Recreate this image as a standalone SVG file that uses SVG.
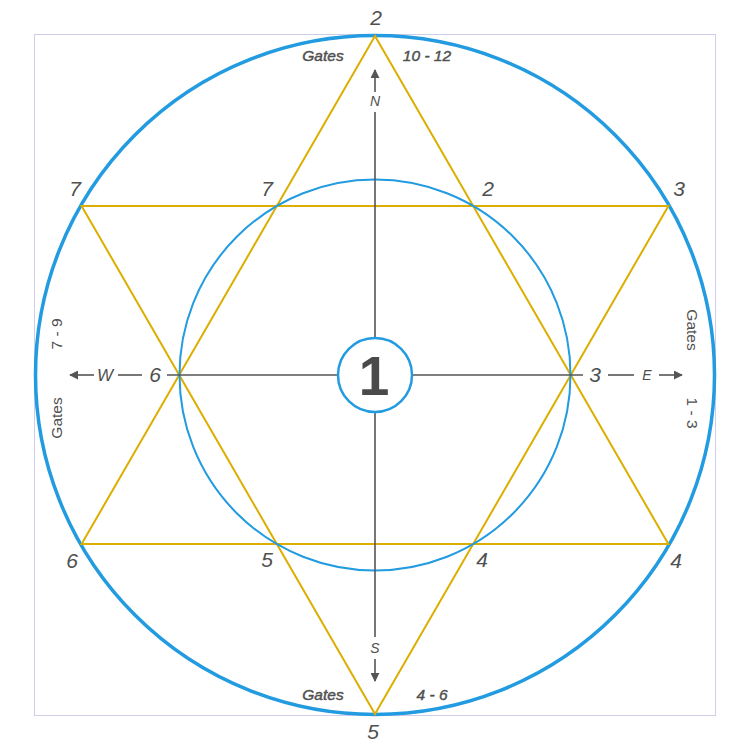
<svg xmlns="http://www.w3.org/2000/svg" width="750" height="750" viewBox="0 0 750 750">
<defs>
<style>
.lbl{font-family:"Liberation Sans",Arial,sans-serif;font-style:italic;fill:#505050;}
.num{font-size:21px;}
.small{font-size:15.5px;stroke:#505050;stroke-width:0.45;}
.side{font-family:"Liberation Sans",Arial,sans-serif;font-size:15.5px;fill:#505050;}
.dir{font-size:14px;}
.axis{stroke:#555;stroke-width:1.6;fill:none;}
.star{stroke:#dcae00;stroke-width:2;fill:none;}
.blue{stroke:#229be0;fill:none;}
</style>
<marker id="arr" viewBox="0 0 10 10" refX="9" refY="5" markerWidth="9" markerHeight="9" markerUnits="userSpaceOnUse" orient="auto">
<path d="M0,0 L10,5 L0,10 Z" fill="#555"/>
</marker>
</defs>
<rect x="0" y="0" width="750" height="750" fill="#fff"/>
<rect x="34.5" y="34.5" width="681" height="681" fill="none" stroke="#cfcde8" stroke-width="1"/>
<g id="outer-circle"><circle cx="375" cy="375" r="339.5" class="blue" stroke-width="3.5"/></g>
<g id="star">
<polygon class="star" points="375,36 81.6,544 668.4,544"/>
<polygon class="star" points="375,714 81.6,206 668.4,206"/>
</g>
<g id="inner-circle"><circle cx="375" cy="375" r="195.5" class="blue" stroke-width="2"/></g>
<g id="connectors">
<line class="axis" x1="375" y1="112" x2="375" y2="338"/>
<line class="axis" x1="375" y1="92" x2="375" y2="70" marker-end="url(#arr)"/>
<line class="axis" x1="375" y1="412" x2="375" y2="637"/>
<line class="axis" x1="375" y1="659" x2="375" y2="681" marker-end="url(#arr)"/>
<line class="axis" x1="167" y1="375" x2="338" y2="375"/>
<line class="axis" x1="118" y1="375" x2="142" y2="375"/>
<line class="axis" x1="94" y1="375" x2="70" y2="375" marker-end="url(#arr)"/>
<line class="axis" x1="412" y1="375" x2="583" y2="375"/>
<line class="axis" x1="608" y1="375" x2="634" y2="375"/>
<line class="axis" x1="659" y1="375" x2="682" y2="375" marker-end="url(#arr)"/>
</g>
<g id="center">
<circle cx="375" cy="375" r="37" fill="#fff" class="blue" stroke-width="2.5"/>
<text x="374" y="395" text-anchor="middle" font-family="Liberation Sans,Arial,sans-serif" font-weight="bold" font-size="55" fill="#4a4a4a">1</text>
</g>
<g id="labels">
<text class="lbl num" x="376" y="25" text-anchor="middle">2</text>
<text class="lbl num" x="373" y="739" text-anchor="middle">5</text>
<text class="lbl num" x="75" y="196" text-anchor="middle">7</text>
<text class="lbl num" x="679" y="196" text-anchor="middle">3</text>
<text class="lbl num" x="72" y="568" text-anchor="middle">6</text>
<text class="lbl num" x="676" y="568" text-anchor="middle">4</text>
<text class="lbl num" x="267" y="196" text-anchor="middle">7</text>
<text class="lbl num" x="488" y="196" text-anchor="middle">2</text>
<text class="lbl num" x="267" y="567" text-anchor="middle">5</text>
<text class="lbl num" x="482" y="567" text-anchor="middle">4</text>
<text class="lbl num" x="155" y="382" text-anchor="middle">6</text>
<text class="lbl num" x="595" y="382" text-anchor="middle">3</text>
<text class="lbl" font-size="17" x="105" y="381" text-anchor="middle">W</text>
<text class="lbl dir" x="647" y="380" text-anchor="middle">E</text>
<text class="lbl dir" x="375" y="106" text-anchor="middle">N</text>
<text class="lbl dir" x="375" y="653" text-anchor="middle">S</text>
<text class="lbl small" x="323" y="61" text-anchor="middle">Gates</text>
<text class="lbl small" x="427" y="61" text-anchor="middle">10 - 12</text>
<text class="lbl small" x="323" y="700" text-anchor="middle">Gates</text>
<text class="lbl small" x="432" y="700" text-anchor="middle">4 - 6</text>
<text class="side" transform="translate(62,334) rotate(-90)" text-anchor="middle">7 - 9</text>
<text class="side" transform="translate(62,418) rotate(-90)" text-anchor="middle">Gates</text>
<text class="side" transform="translate(687,330) rotate(90)" text-anchor="middle">Gates</text>
<text class="side" transform="translate(687,413) rotate(90)" text-anchor="middle">1 - 3</text>
</g>
</svg>
